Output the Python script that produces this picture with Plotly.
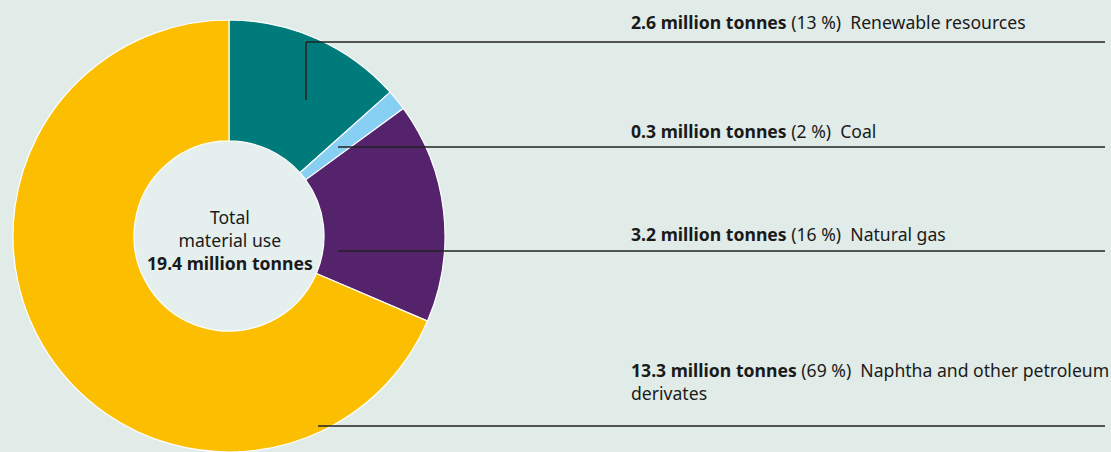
import plotly.graph_objects as go

# Material use by raw material source
categories = ["Renewable resources", "Coal", "Natural gas", "Naphtha and other petroleum<br>derivates"]
million_tonnes = [2.6, 0.3, 3.2, 13.3]
percent = [13, 2, 16, 69]
total_label = "19.4 million tonnes"

colors = ["#007b7b", "#88cff4", "#55236b", "#fcbe00"]
BG = "#e1ebe8"
HOLE_BG = "#e4efee"
INK = "#1a1a1a"
FONT = "Noto Sans"
FONT_SIZE = 17.6

W, H = 1111, 452


def px(x):
    return x / W


def py(y):
    return 1 - y / H


# Donut geometry (pixels)
cx, cy, r = 229, 236, 216
hole = 0.44

fig = go.Figure(
    go.Pie(
        labels=categories,
        values=million_tonnes,
        sort=False,
        direction="clockwise",
        rotation=0,
        hole=hole,
        marker=dict(colors=colors, line=dict(color="white", width=1.2)),
        textinfo="none",
        hoverinfo="label+value",
        showlegend=False,
        domain=dict(x=[px(cx - r), px(cx + r)], y=[py(cy + r), py(cy - r)]),
    )
)

shapes = []
# Fill behind the hole
hr = r * hole
shapes.append(dict(type="circle", xref="paper", yref="paper", layer="below",
                   x0=px(cx - hr), x1=px(cx + hr), y0=py(cy + hr), y1=py(cy - hr),
                   fillcolor=HOLE_BG, line=dict(width=0)))

# Leader lines: (start x, start y, horizontal y)
line_end_x = 1105
leaders = [(306, 100, 42), (338, 147, 147), (338, 251, 251), (318, 426, 426)]
line_style = dict(color="#222222", width=1.6)
for sx, sy, hy in leaders:
    if sy != hy:
        shapes.append(dict(type="line", xref="paper", yref="paper",
                           x0=px(sx), x1=px(sx), y0=py(sy), y1=py(hy), line=line_style))
    shapes.append(dict(type="line", xref="paper", yref="paper",
                       x0=px(sx), x1=px(line_end_x), y0=py(hy), y1=py(hy), line=line_style))

annotations = []
label_x = 629
label_mid = [22, 131, 234, 381.5]  # vertical centre of each label block
for cat, val, pct, ym in zip(categories, million_tonnes, percent, label_mid):
    txt = f"<b>{val:.1f} million tonnes</b> ({pct}\u00a0%)\u00a0\u00a0{cat}"
    annotations.append(dict(x=px(label_x), y=py(ym), xref="paper", yref="paper",
                            xanchor="left", yanchor="middle", align="left",
                            text=txt, showarrow=False,
                            font=dict(family=FONT, size=FONT_SIZE, color=INK)))

# Centre caption
annotations.append(dict(x=px(cx + 1), y=py(cy + 4.5), xref="paper", yref="paper",
                        xanchor="center", yanchor="middle", align="center",
                        text=f"Total<br>material use<br><b>{total_label}</b>",
                        showarrow=False,
                        font=dict(family=FONT, size=FONT_SIZE, color=INK)))

fig.update_layout(
    width=W, height=H,
    margin=dict(l=0, r=0, t=0, b=0),
    paper_bgcolor=BG, plot_bgcolor=BG,
    shapes=shapes, annotations=annotations,
)

fig.write_html("out.html")
